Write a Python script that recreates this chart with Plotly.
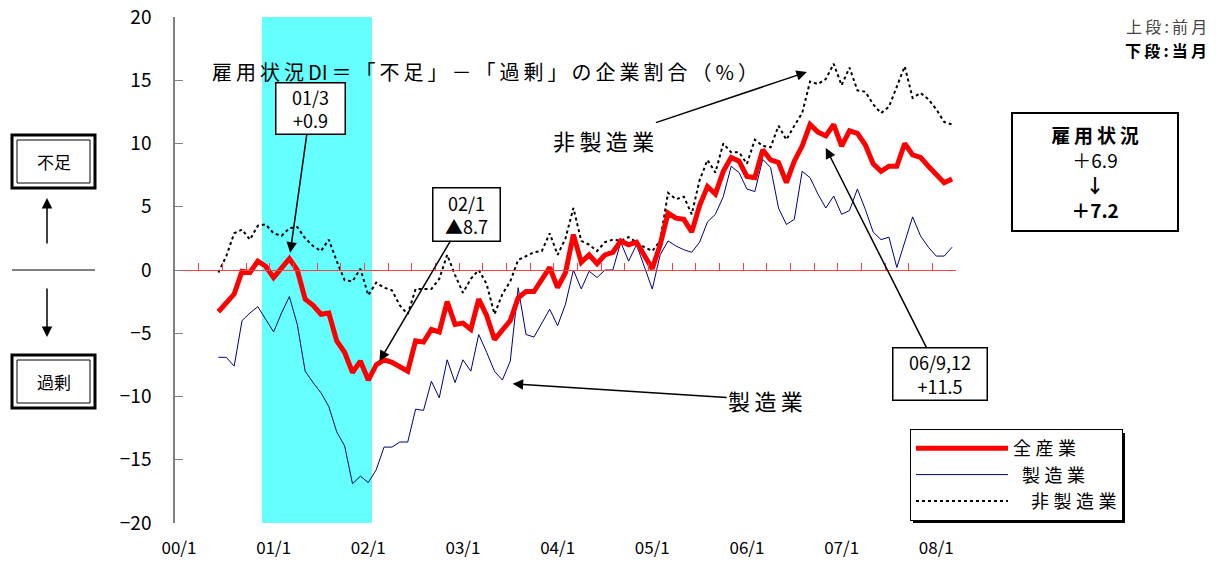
import plotly.graph_objects as go

# ---------------- data ----------------
years = ["00", "01", "02", "03", "04", "05", "06", "07", "08"]
months = [f"{y}/{m}" for y in years for m in range(1, 13)][:99]   # 00/1 .. 08/3
data_months = months[5:]                                          # 00/6 .. 08/3

all_industries = [
    -3.3, -2.6, -1.9, -0.1, -0.2, 0.7, 0.3, -0.6, 0.2, 0.9,
    0.0, -2.3, -2.8, -3.5, -3.4, -5.6, -6.5, -8.1, -7.2, -8.7,
    -7.5, -7.1, -7.3, -7.7, -8.0, -5.6, -5.7, -4.7, -4.9, -2.5,
    -4.3, -4.2, -4.7, -2.3, -3.6, -5.5, -4.8, -4.0, -2.2, -1.7,
    -1.7, -0.7, 0.2, -1.4, -0.2, 2.8, 0.6, 1.2, 0.5, 1.2,
    1.4, 2.3, 2.0, 2.2, 1.1, 0.1, 2.0, 4.5, 4.1, 4.0,
    3.0, 5.1, 6.6, 6.0, 7.8, 8.9, 8.6, 7.4, 7.3, 9.5,
    8.7, 8.5, 6.9, 8.6, 9.8, 11.5, 10.9, 10.6, 11.5, 9.8,
    11.0, 10.8, 9.9, 8.4, 7.8, 8.2, 8.2, 10.0, 9.1, 8.9,
    8.2, 7.5, 6.9, 7.2,
]
manufacturing = [
    -6.9, -6.9, -7.6, -4.0, -3.4, -2.9, -3.9, -4.9, -3.4, -2.1,
    -4.3, -8.0, -8.9, -9.7, -10.8, -12.8, -13.9, -16.9, -16.3, -16.8,
    -15.8, -14.0, -14.0, -13.6, -13.6, -11.0, -11.1, -8.8, -10.1, -7.1,
    -8.9, -7.1, -8.0, -5.1, -6.5, -8.0, -8.7, -7.2, -1.4, -5.1,
    -5.3, -4.2, -3.1, -4.4, -2.7, 0.0, -1.5, -0.1, -0.6, 0.0,
    0.0, 2.2, 0.7, 2.0, 0.2, -1.5, 1.2, 2.3, 1.9, 1.6,
    1.4, 2.2, 3.8, 4.4, 5.8, 8.2, 7.7, 6.4, 6.2, 8.75,
    8.1, 4.9, 3.6, 4.0, 7.8, 7.3, 6.0, 4.9, 5.85, 4.4,
    4.7, 6.4, 4.8, 3.0, 2.4, 2.6, 0.2, 2.2, 4.2, 2.7,
    1.8, 1.1, 1.1, 1.8,
]
non_manufacturing = [
    -0.2, 1.1, 2.9, 3.2, 2.4, 3.5, 3.6, 2.9, 2.7, 3.3,
    3.4, 2.5, 1.9, 1.5, 2.4, 0.7, -0.8, -0.9, 0.1, -2.0,
    -1.0, -1.4, -1.6, -2.8, -3.5, -1.5, -1.5, -1.5, -0.7, 1.2,
    -0.4, -1.8, -0.7, 0.0, -1.1, -3.5, -1.9, -0.9, 0.8, 1.1,
    1.4, 1.5, 2.9, 1.2, 2.5, 4.9, 2.3, 2.0, 1.5, 2.2,
    2.4, 2.3, 2.6, 2.2, 1.8, 1.5, 2.3, 6.1, 5.6, 5.8,
    4.4, 7.1, 8.7, 7.7, 10.0, 9.3, 9.3, 8.4, 10.3, 9.8,
    9.7, 11.4, 10.3, 11.4, 12.4, 14.9, 14.7, 15.1, 16.3, 14.6,
    16.0, 14.2, 14.1, 13.1, 12.4, 12.9, 14.5, 16.1, 13.6, 14.0,
    13.5, 12.7, 11.7, 11.5,
]

# recession shading (00/12 .. 02/1)
shade_months = months[11:25]
shade_base = -20
shade_height = 40.4

tick_labels = [f"{y}/1" for y in years]

# ---------------- geometry helpers (screen pixel -> paper) ----------------
OFF = 8                     # default page margin of the html body
W, H = 1218 - 2 * OFF, 567 - 2 * OFF
PL, PR, PT, PB = 175, 956, 17, 523     # plot area in screen pixels


def px(x):
    return (x - OFF) / W


def py(y):
    return 1 - (y - OFF) / H


FONT = "Noto Sans CJK JP"
TS = "\u2009"   # thin space for the letter-spaced Japanese labels
QS = "\u2005"   # four-per-em space (legend letter spacing)


def spaced(s, sep=TS):
    return sep.join(s)


fig = go.Figure()

fig.add_trace(go.Bar(
    x=shade_months, y=[shade_height] * len(shade_months), base=shade_base,
    marker=dict(color="#66FFFF", line=dict(width=0)), width=1.0,
    showlegend=False, hoverinfo="skip"))

fig.add_trace(go.Scatter(
    x=data_months, y=non_manufacturing, mode="lines",
    name="\u2003" + spaced("非製造業", QS),
    line=dict(color="black", width=2, dash="3px,3px"), legendrank=3))
fig.add_trace(go.Scatter(
    x=data_months, y=manufacturing, mode="lines", name="\u2002" + spaced("製造業", QS),
    line=dict(color="#000080", width=1), legendrank=2))
fig.add_trace(go.Scatter(
    x=data_months, y=all_industries, mode="lines", name=spaced("全産業", QS),
    line=dict(color="#FF0000", width=5), legendrank=1))

# invisible trace to hold the zero-line axis
fig.add_trace(go.Scatter(x=[-0.5], y=[0], xaxis="x2", mode="markers",
                         marker=dict(opacity=0), showlegend=False, hoverinfo="skip"))

fig.update_layout(
    width=W, height=H,
    margin=dict(l=0, r=0, t=0, b=0, autoexpand=False),
    paper_bgcolor="white", plot_bgcolor="white",
    font=dict(family=FONT, color="black", size=17),
    bargap=0,
    xaxis=dict(domain=[px(PL), px(PR)], type="category", categoryarray=months,
               range=[-0.5, 98.5], tickvals=tick_labels, ticktext=tick_labels,
               ticks="", showline=False, showgrid=False, zeroline=False,
               tickfont=dict(size=17), ticklabelstandoff=13, automargin=False,
               ticklabeloverflow="allow"),
    xaxis2=dict(overlaying="x", anchor="free", position=py((PT + PB) / 2),
                side="bottom", range=[-0.5, 98.5], tick0=-0.5, dtick=3,
                ticks="inside", ticklen=7, tickcolor="#FF4040", showline=True,
                linecolor="#FF4040", linewidth=1, showticklabels=False,
                showgrid=False, zeroline=False, automargin=False),
    yaxis=dict(domain=[py(PB), py(PT)], range=[-20, 20],
               tickvals=[-20, -15, -10, -5, 0, 5, 10, 15, 20],
               ticks="inside", ticklen=8, tickcolor="#808080",
               showline=True, linecolor="#808080", linewidth=1.5,
               showgrid=False, zeroline=False, tickfont=dict(size=19),
               ticklabelstandoff=18, automargin=False, ticklabeloverflow="allow"),
    legend=dict(x=px(910), y=py(429), xanchor="left", yanchor="top",
                bordercolor="black", borderwidth=1, bgcolor="white",
                font=dict(size=18), tracegroupgap=2, itemwidth=92),
    showlegend=True,
)

ann = []
C = dict(xanchor="center", yanchor="middle")
# title
ann.append(dict(C, xref="paper", yref="paper", x=px(485), y=py(71), showarrow=False,
                text=TS.join(["雇", "用", "状", "況", "DI", "＝", "「", "不", "足", "」",
                              "－", "「", "過", "剰", "」", "の", "企", "業", "割", "合",
                              "（", "%", "）"]),
                font=dict(size=20)))

arrow_style = dict(arrowhead=2, arrowsize=1.4, arrowwidth=1.5, arrowcolor="black")
box = dict(bordercolor="black", borderwidth=1.5, bgcolor="white", borderpad=2,
           font=dict(size=18), xref="x", yref="y", **arrow_style)

# 01/3 callout
ann.append(dict(box, x=14, y=all_industries[14 - 5], ax=21, ay=-150, standoff=6,
                width=64, height=46, text="01/3<br>+0.9"))
# 02/1 callout
ann.append(dict(box, x=24, y=all_industries[24 - 5], ax=98, ay=-166, standoff=22,
                width=62, height=48, text="02/1<br>▲8.7"))
# 06/9,12 callout
ann.append(dict(box, x=82, y=9.64, ax=114, ay=226, standoff=0,
                width=89, height=47, text="06/9,12<br>+11.5"))
# series labels
ann.append(dict(xref="x", yref="y", x=79.6, y=15.65, ax=-203, ay=68,
                text=spaced("非製造業"), font=dict(size=22), **arrow_style))
ann.append(dict(xref="x", yref="y", x=42.3, y=-9.0, ax=253, ay=16,
                text=spaced("製造業"), font=dict(size=22), **arrow_style))

# right summary box
ann.append(dict(C, xref="paper", yref="paper", x=px(1095), y=py(172), showarrow=False,
                width=162, height=114, bordercolor="black", borderwidth=2,
                bgcolor="white",
                text="<b>" + spaced("雇用状況") + "</b><br>＋6.9<br><b>↓</b><br><b>＋7.2</b>",
                font=dict(size=19)))
# top-right notes
ann.append(dict(xref="paper", yref="paper", x=px(1209), y=py(26), showarrow=False,
                xanchor="right", yanchor="middle", text=spaced("上段:前月"),
                font=dict(size=16, color="#444444")))
ann.append(dict(xref="paper", yref="paper", x=px(1209), y=py(50), showarrow=False,
                xanchor="right", yanchor="middle",
                text="<b>" + spaced("下段:当月") + "</b>", font=dict(size=16)))

# left side labels
ann.append(dict(C, xref="paper", yref="paper", x=px(53.5), y=py(161.5), showarrow=False,
                text="不足", font=dict(size=17)))
ann.append(dict(C, xref="paper", yref="paper", x=px(53.5), y=py(381.5), showarrow=False,
                text="過剰", font=dict(size=17)))
ann.append(dict(xref="paper", yref="paper", x=px(47), y=py(198), ax=0, ay=47,
                text="", **arrow_style))
ann.append(dict(xref="paper", yref="paper", x=px(47), y=py(337), ax=0, ay=-50,
                text="", **arrow_style))

fig.update_layout(annotations=ann)

shapes = []
for (x0, y0, x1, y1) in [(12, 135, 95, 188), (12, 355, 95, 408)]:
    shapes.append(dict(type="rect", xref="paper", yref="paper",
                       x0=px(x0), x1=px(x1), y0=py(y0), y1=py(y1),
                       line=dict(color="black", width=3)))
    shapes.append(dict(type="rect", xref="paper", yref="paper",
                       x0=px(x0 + 5), x1=px(x1 - 5), y0=py(y0 + 5), y1=py(y1 - 5),
                       line=dict(color="black", width=1)))
shapes.append(dict(type="line", xref="paper", yref="paper",
                   x0=px(12), x1=px(95), y0=py(270), y1=py(270),
                   line=dict(color="black", width=1)))
# legend drop shadow
shapes.append(dict(type="rect", xref="paper", yref="paper", layer="above",
                   x0=px(913), x1=px(1125), y0=py(433), y1=py(523),
                   fillcolor="black", line=dict(width=0)))
fig.update_layout(shapes=shapes)

fig.write_html("out.html")
